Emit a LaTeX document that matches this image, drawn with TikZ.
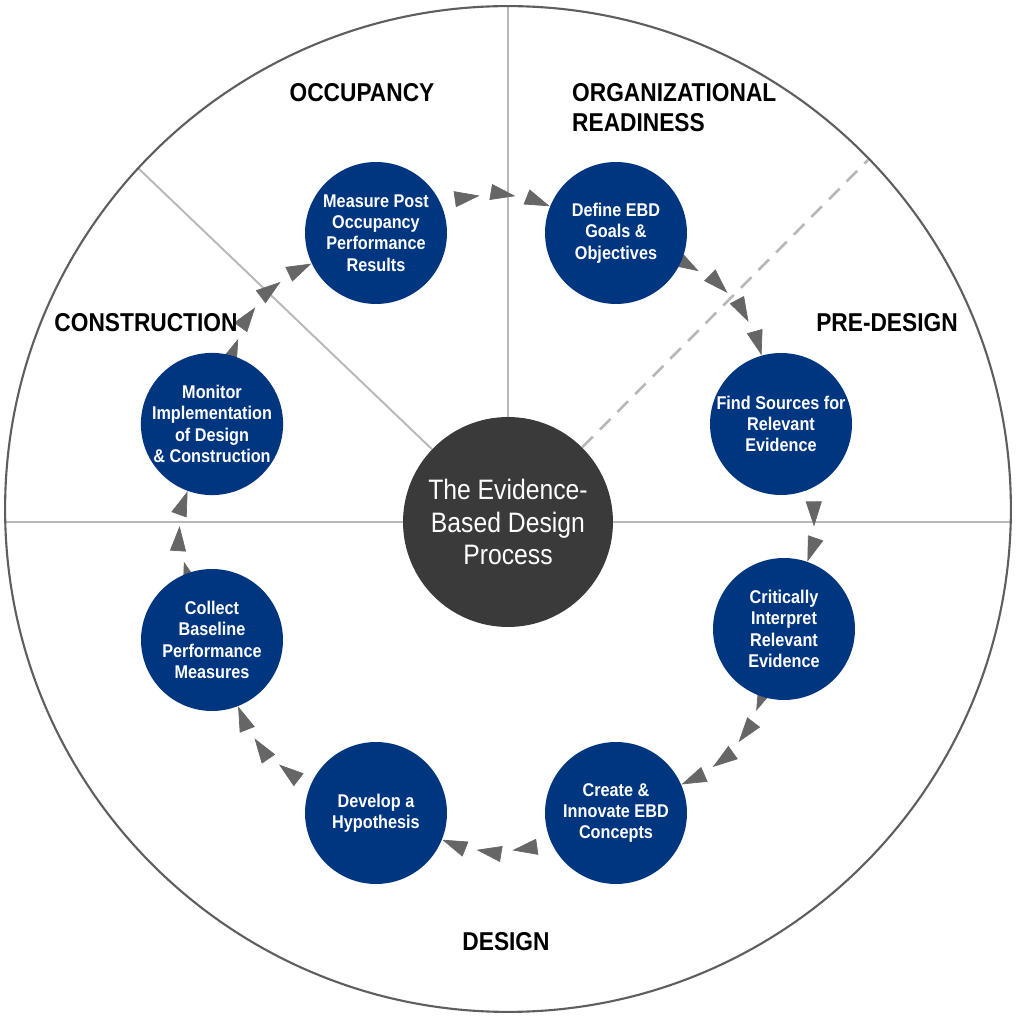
\documentclass[tikz,border=0pt]{standalone}
\usepackage{xcolor}
\usepackage{fontspec}
\setmainfont{Liberation Sans}[FakeStretch=0.88]
\usetikzlibrary{arrows.meta,decorations.markings}

\definecolor{ebdblue}{HTML}{003580}
\definecolor{hubgray}{HTML}{3A3A3A}
\definecolor{rulegray}{HTML}{B8B8B8}
\definecolor{arrowgray}{HTML}{666666}
\definecolor{rimgray}{HTML}{5E5E5E}

\pgfdeclarelayer{background}
\pgfsetlayers{background,main}

\begin{document}
\begin{tikzpicture}[x=0.02cm, y=0.02cm,
    stage/.style={circle, fill=ebdblue, text=white, minimum size=2.84cm, inner sep=0pt,
        align=center, font=\bfseries\fontsize{10.5}{12.1}\selectfont},
    hub/.style={circle, fill=hubgray, text=white, minimum size=4.2cm, inner sep=0pt,
        align=center, font=\fontsize{16}{18.5}\selectfont},
    phase/.style={align=left, font=\bfseries\fontsize{14.7}{17}\selectfont},
    divider/.style={rulegray, line width=1.1pt},
    tri/.tip={Triangle[length=0.5cm, width=0.32cm]},
    flow/.style={decoration={markings,
        mark=at position 0.999 with {\arrow[arrowgray]{tri}},
        mark=at position -0.72cm with {\arrow[arrowgray]{tri}},
        mark=at position -1.44cm with {\arrow[arrowgray]{tri}}},
        postaction={decorate}},
    flowlong/.style={decoration={markings,
        mark=at position 0.999 with {\arrow[arrowgray]{tri}},
        mark=at position -0.72cm with {\arrow[arrowgray]{tri}},
        mark=at position -1.44cm with {\arrow[arrowgray]{tri}},
        mark=at position -2.16cm with {\arrow[arrowgray]{tri}}},
        postaction={decorate}}
  ]
    \useasboundingbox (0,0) rectangle (1016,1019);

    % outer ring
    \node[circle, draw=rimgray, line width=1.2pt, minimum size=20.12cm, inner sep=0pt] (rim) at (508,510) {};

    % hub and stages
    \node[hub] (cen) at (508,497) {The Evidence-\\Based Design\\Process};

    \node[stage] (meas) at (376,786) {Measure Post\\Occupancy\\Performance\\Results};
    \node[stage] (defn) at (616,786) {Define EBD\\Goals \&\\Objectives};
    \node[stage] (find) at (781,595) {Find Sources for\\Relevant\\Evidence};
    \node[stage] (crit) at (784,390) {Critically\\Interpret\\Relevant\\Evidence};
    \node[stage] (crea) at (616,206) {Create \&\\Innovate EBD\\Concepts};
    \node[stage] (devl) at (376,206) {Develop a\\Hypothesis};
    \node[stage] (coll) at (212,379) {Collect\\Baseline\\Performance\\Measures};
    \node[stage] (moni) at (212,595) {Monitor\\Implementation\\of Design\\\& Construction};

    % phase labels
    \node[phase] (occ) at (362,926) {OCCUPANCY};
    \node[phase, anchor=west] (org) at (566,911) {ORGANIZATIONAL\\READINESS};
    \node[phase] (cons) at (146,696) {CONSTRUCTION};
    \node[phase] (pre) at (887,696) {PRE-DESIGN};
    \node[phase] (des) at (506,77) {DESIGN};

    \coordinate (lftend) at (5,497);
    \coordinate (rgtend) at (1011,497);
    \coordinate (nwend) at (138,851);
    \coordinate (neend) at (868,859);

    \begin{pgfonlayer}{background}
        \draw[divider] (cen) -- (rim.north);
        \draw[divider] (cen) -- (lftend);
        \draw[divider] (cen) -- (rgtend);
        \draw[divider] (cen) -- (nwend);
        \draw[divider, line width=1.5pt, dash pattern=on 0.3cm off 0.2cm] (cen) -- (neend);

        \foreach \a/\b/\s/\t in {meas/defn/flow/22, defn/find/flowlong/25, find/crit/flow/20,
                crit/crea/flowlong/24, crea/devl/flow/22, devl/coll/flow/22,
                coll/moni/flow/20, moni/meas/flowlong/24}
            \path[\s] (\a) to[bend left=\t] (\b);
    \end{pgfonlayer}
\end{tikzpicture}
\end{document}
